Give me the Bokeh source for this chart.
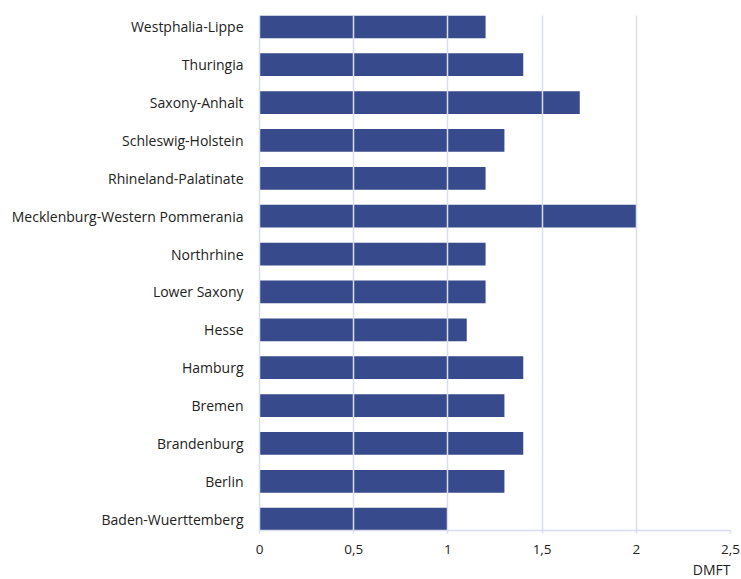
from bokeh.plotting import figure
from bokeh.models import Range1d, FixedTicker, Title, ColumnDataSource
from bokeh.embed import file_html
from bokeh.resources import INLINE

regions = ["Baden-Wuerttemberg", "Berlin", "Brandenburg", "Bremen", "Hamburg", "Hesse",
           "Lower Saxony", "Northrhine", "Mecklenburg-Western Pommerania",
           "Rhineland-Palatinate", "Schleswig-Holstein", "Saxony-Anhalt", "Thuringia",
           "Westphalia-Lippe"]
dmft = [1.0, 1.3, 1.4, 1.3, 1.4, 1.1, 1.2, 1.2, 2.0, 1.2, 1.3, 1.7, 1.4, 1.2]
x_ticks = [0, 0.5, 1, 1.5, 2, 2.5]
x_tick_labels = ["0", "0,5", "1", "1,5", "2", "2,5"]
x_title = "DMFT"

FONT = "Open Sans"
GRID = "#d9ddee"
BAR = "#374a8b"

pos = list(range(len(regions)))
src = ColumnDataSource(dict(y=pos, v=dmft, name=regions))

p = figure(output_backend="svg", toolbar_location=None,
           frame_width=471, frame_height=515,
           min_border_left=259, min_border_right=10, min_border_top=15, min_border_bottom=0,
           x_range=Range1d(0, 2.5), y_range=Range1d(-0.3, len(regions) - 0.7))
p.outline_line_color = None

p.hbar(y="y", left=0, right="v", height=0.6, source=src, color=BAR, line_color=None)

p.xaxis.ticker = FixedTicker(ticks=x_ticks)
p.xaxis.major_label_overrides = {t: l for t, l in zip(x_ticks, x_tick_labels)}
p.xaxis.axis_line_color = GRID
p.xaxis.axis_line_width = 1.5
p.xaxis.major_tick_line_color = GRID
p.xaxis.major_tick_line_width = 1.5
p.xaxis.major_tick_in = 0
p.xaxis.major_tick_out = 3
p.xaxis.minor_tick_line_color = None
p.xaxis.major_label_standoff = 11
p.xaxis.major_label_text_font = FONT
p.xaxis.major_label_text_font_size = "13.5px"
p.xaxis.major_label_text_color = "#222222"

p.yaxis.ticker = FixedTicker(ticks=pos)
p.yaxis.major_label_overrides = {i: n for i, n in zip(pos, regions)}
p.yaxis.axis_line_color = GRID
p.yaxis.axis_line_width = 1.5
p.yaxis.major_tick_line_color = None
p.yaxis.minor_tick_line_color = None
p.yaxis.major_label_standoff = 10
p.yaxis.major_label_text_font = FONT
p.yaxis.major_label_text_font_size = "14px"
p.yaxis.major_label_text_color = "#222222"

p.ygrid.grid_line_color = None
p.xgrid.ticker = FixedTicker(ticks=x_ticks[1:])
p.xgrid.grid_line_color = GRID
p.xgrid.grid_line_width = 1.5
p.xgrid.level = "annotation"

p.add_layout(Title(text=x_title, align="right", standoff=2, text_font=FONT,
                   text_font_size="14px", text_font_style="normal",
                   text_color="#222222"), "below")

open("out.html", "w").write(file_html(p, INLINE))
